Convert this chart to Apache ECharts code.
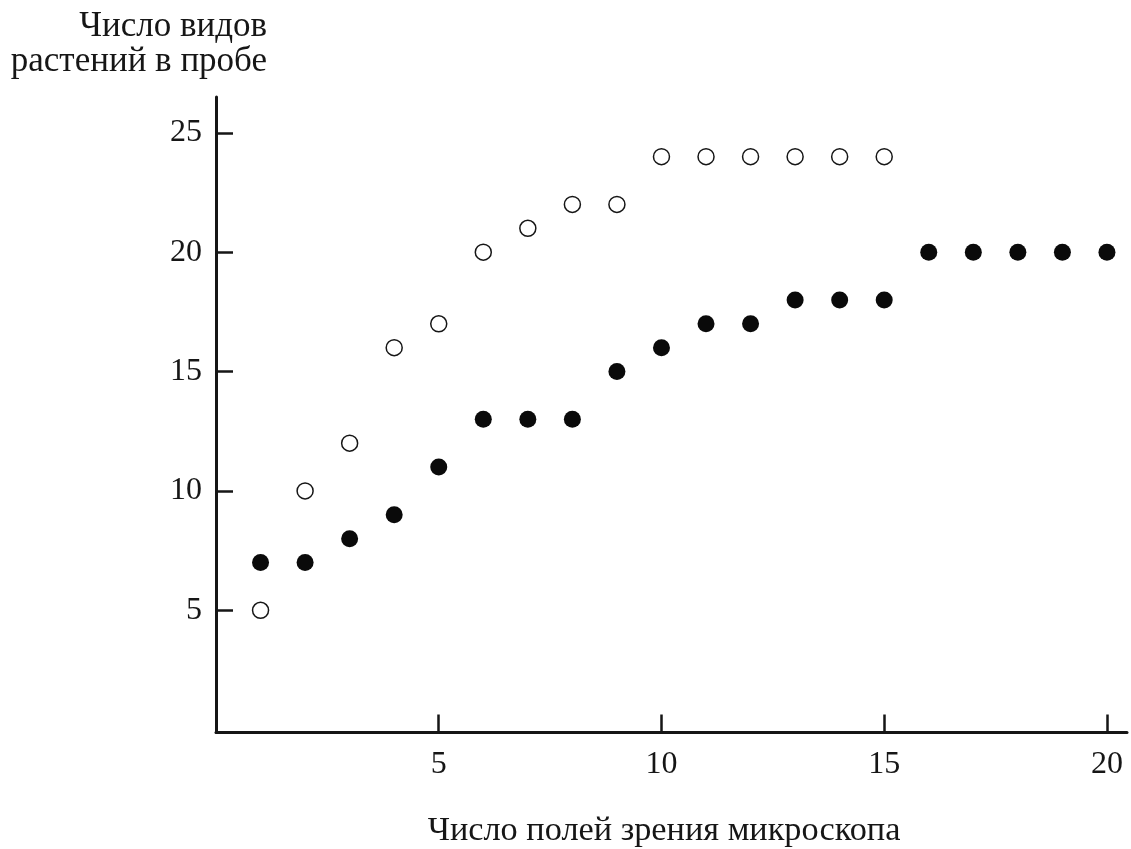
<!DOCTYPE html>
<html>
<head>
<meta charset="utf-8">
<title>Число видов растений в пробе</title>
<script src="https://cdn.jsdelivr.net/npm/echarts@6/dist/echarts.min.js"></script>
<style>
  html, body { margin: 0; padding: 0; background: #ffffff; }
  #chart { width: 1131px; height: 849px; }
</style>
</head>
<body>
<div id="chart"></div>
<script>
// Number of microscope fields examined (x) and species counted (y)
const fields = [1, 2, 3, 4, 5, 6, 7, 8, 9, 10, 11, 12, 13, 14, 15, 16, 17, 18, 19, 20];
const openSpecies = [5, 10, 12, 16, 17, 20, 21, 22, 22, 24, 24, 24, 24, 24, 24];
const filledSpecies = [7, 7, 8, 9, 11, 13, 13, 13, 15, 16, 17, 17, 18, 18, 18, 20, 20, 20, 20, 20];
const xTicks = [5, 10, 15, 20];
const yTicks = [5, 10, 15, 20, 25];
const yAxisTitleLines = ['Число видов', 'растений в пробе'];
const xAxisTitle = 'Число полей зрения микроскопа';

const FONT = '"Liberation Serif", "Times New Roman", serif';
const INK = '#161616';

const pairs = (xs, ys) => ys.map((v, i) => [xs[i], v]);

const chart = echarts.init(document.getElementById('chart'), null, { renderer: 'canvas' });

chart.setOption({
  backgroundColor: '#ffffff',
  animation: false,
  grid: { left: 216, right: 4, top: 97, bottom: 116.5, containLabel: false, outerBoundsMode: 'none' },
  xAxis: {
    type: 'value',
    min: 0,
    max: 20.45,
    axisLine: { show: true, onZero: false, lineStyle: { color: INK, width: 3 } },
    axisTick: { show: true, inside: true, length: 18, customValues: xTicks, lineStyle: { color: INK, width: 2.5 } },
    axisLabel: { show: true, customValues: xTicks, margin: 16, color: INK, fontFamily: FONT, fontSize: 32 },
    splitLine: { show: false }
  },
  yAxis: {
    type: 'value',
    min: -0.12,
    max: 26.5,
    axisLine: { show: true, onZero: false, lineStyle: { color: INK, width: 3 } },
    axisTick: { show: true, inside: true, length: 17, customValues: yTicks, lineStyle: { color: INK, width: 2.5 } },
    axisLabel: { show: true, customValues: yTicks, margin: 14, color: INK, fontFamily: FONT, fontSize: 32 },
    splitLine: { show: false }
  },
  graphic: [
    {
      type: 'text',
      style: {
        x: 267, y: 27,
        text: yAxisTitleLines[0],
        textAlign: 'right',
        textVerticalAlign: 'middle',
        font: '35px ' + FONT,
        fill: INK
      }
    },
    {
      type: 'text',
      style: {
        x: 267, y: 62,
        text: yAxisTitleLines[1],
        textAlign: 'right',
        textVerticalAlign: 'middle',
        font: '35px ' + FONT,
        fill: INK
      }
    },
    {
      type: 'text',
      style: {
        x: 664, y: 831,
        text: xAxisTitle,
        textAlign: 'center',
        textVerticalAlign: 'middle',
        font: '34.3px ' + FONT,
        fill: INK
      }
    }
  ],
  series: [
    {
      name: 'open',
      type: 'scatter',
      data: pairs(fields, openSpecies),
      symbol: 'circle',
      symbolSize: 16,
      itemStyle: { color: '#ffffff', borderColor: INK, borderWidth: 1.5, opacity: 1 }
    },
    {
      name: 'filled',
      type: 'scatter',
      data: pairs(fields, filledSpecies),
      symbol: 'circle',
      symbolSize: 17,
      itemStyle: { color: '#0a0a0a', opacity: 1 }
    }
  ]
});
</script>
</body>
</html>
